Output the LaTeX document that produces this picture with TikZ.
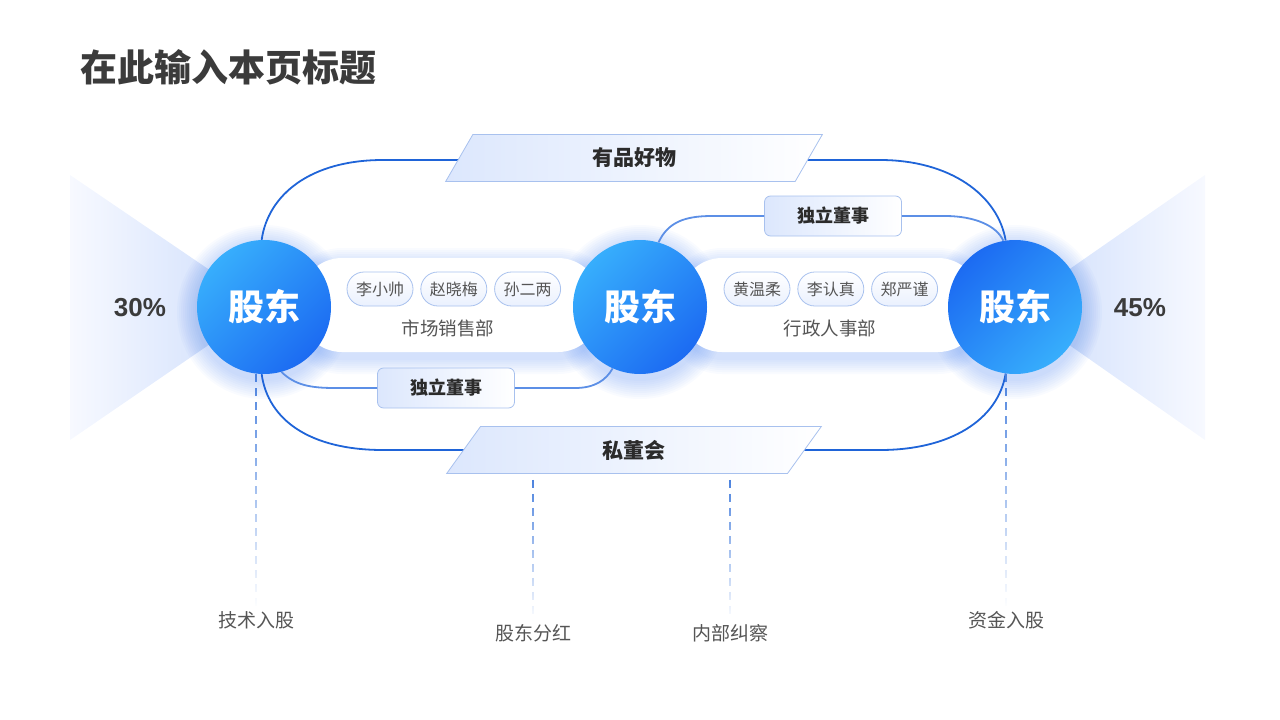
\documentclass[tikz,border=0pt]{standalone}
\usepackage{fontspec}
\setmainfont{Noto Sans CJK SC}
\newfontfamily\pctfont{Liberation Sans}
\usetikzlibrary{positioning, shapes.geometric, fadings}

\definecolor{loopblue}{HTML}{1F64D8}
\definecolor{linkblue}{HTML}{5C8FE6}
\definecolor{dashblue}{HTML}{4B82DE}
\definecolor{ballhi}{HTML}{37AEFC}
\definecolor{balllo}{HTML}{1C6BF2}
\definecolor{glowblue}{HTML}{3F7BF0}
\definecolor{fanblue}{HTML}{CCDCFC}
\definecolor{fanpale}{HTML}{F7F9FF}
\definecolor{paleblue}{HTML}{DCE7FD}
\definecolor{edgeblue}{HTML}{A8C1EE}
\definecolor{titlegray}{HTML}{3B3B3B}
\definecolor{textgray}{HTML}{555555}
\definecolor{darktext}{HTML}{2B2B2B}

\begin{document}
\begin{tikzpicture}[
    x=1pt, y=-1pt,
    node distance=7pt,
    ball/.style={
        circle,
        minimum size=134pt,
        inner sep=0pt,
        text=white,
        font=\fontsize{36}{36}\selectfont\bfseries
    },
    pill/.style={
        rectangle,
        rounded corners=17pt,
        draw=edgeblue,
        line width=0.8pt,
        minimum width=66pt,
        minimum height=34pt,
        inner sep=0pt,
        top color=white,
        bottom color=paleblue!60,
        text=textgray,
        font=\fontsize{16}{16}\selectfont
    },
    panel/.style={
        rectangle,
        rounded corners=42pt,
        fill=white,
        minimum width=300pt,
        minimum height=94pt
    },
    dept/.style={text=textgray, font=\fontsize{18.5}{18.5}\selectfont},
    board/.style={
        rectangle,
        rounded corners=6pt,
        draw=edgeblue,
        line width=0.8pt,
        minimum width=137pt,
        minimum height=40pt,
        left color=paleblue,
        right color=white,
        text=darktext,
        font=\fontsize{18}{18}\selectfont\bfseries
    },
    para/.style={
        trapezium,
        trapezium left angle=74,
        trapezium right angle=106,
        trapezium stretches=true,
        draw=edgeblue,
        line width=0.8pt,
        minimum width=377pt,
        minimum height=47pt,
        left color=paleblue,
        right color=white,
        text=darktext,
        font=\fontsize{21}{21}\selectfont\bfseries
    },
    loopline/.style={draw=loopblue, line width=1.8pt},
    link/.style={draw=linkblue, line width=1.8pt},
    dashline/.style={dashblue, line width=1.8pt, dash pattern=on 8pt off 6pt, path fading=south},
    foot/.style={text=textgray, font=\fontsize{19}{19}\selectfont},
    pct/.style={text=titlegray, font=\pctfont\fontsize{26}{26}\selectfont\bfseries},
    glow/.style={fill=glowblue, opacity=0.03}
]
\useasboundingbox (0,0) rectangle (1280,720);

\node[anchor=west, text=titlegray, font=\fontsize{37}{37}\selectfont\bfseries] (title) at (77,67) {在此输入本页标题};

% fans behind the side holders
\shade[left color=fanpale, right color=fanblue] (70,175) -- (264,307) -- (70,440) -- cycle;
\shade[left color=fanblue, right color=fanpale] (1205,175) -- (1015,307) -- (1205,440) -- cycle;

% soft glow
\foreach \cx in {264,640,1015}
    \foreach \k in {1,...,10}
        \fill[glow] (\cx,312) circle [radius=67pt+2pt*\k];
\foreach \px in {450,830}
    \foreach \k in {1,...,8}
        \fill[glow, rounded corners=42pt+2pt*\k] ({\px-150-2*\k},{264-2*\k}) rectangle ({\px+150+2*\k},{358+2*\k});

\node[panel] (sales) at (450,305) {};
\node[panel] (admin) at (830,305) {};

% shareholders
\node[ball, top color=ballhi, bottom color=balllo, shading angle=45] (c1) at (264,307) {股东};
\node[ball, top color=ballhi, bottom color=balllo, shading angle=45] (c2) at (640,307) {股东};
\node[ball, top color=balllo, bottom color=ballhi, shading angle=45] (c3) at (1015,307) {股东};

\node[pct] (p1) at (140,308) {30\%};
\node[pct] (p2) at (1140,308) {45\%};

% outer loop
\draw[loopline] (c1.92) .. controls (268,195) and (310,160) .. (383,160) -- (880,160)
    .. controls (950,160) and (998,195) .. (c3.98);
\draw[loopline] (c1.268) .. controls (268,420) and (310,450) .. (383,450) -- (880,450)
    .. controls (950,450) and (998,420) .. (c3.262);

% directors
\node[board] (dtop) at (833,216) {独立董事};
\node[board] (dbot) at (446,388) {独立董事};

\draw[link] (c2.74) .. controls (668,222) and (685,216) .. (712,216) -- (dtop.west);
\draw[link] (dtop.east) -- (945,216) .. controls (975,216) and (997,226) .. (c3.100);
\draw[link] (c1.285) .. controls (295,385) and (310,388) .. (335,388) -- (dbot.west);
\draw[link] (dbot.east) -- (575,388) .. controls (595,388) and (606,380) .. (c2.246);

\node[para] (goods) at (634,158) {有品好物};
\node[para] (club) at (634,450) {私董会};

% departments
\node[pill] (m1) at (380,289) {李小帅};
\node[pill, right=of m1] (m2) {赵晓梅};
\node[pill, right=of m2] (m3) {孙二两};
\node[dept] (salesname) at (448,328) {市场销售部};

\node[pill] (a1) at (757,289) {黄温柔};
\node[pill, right=of a1] (a2) {李认真};
\node[pill, right=of a2] (a3) {郑严谨};
\node[dept] (adminname) at (830,328) {行政人事部};

% footnotes
\node[foot] (f1) at (256,620) {技术入股};
\node[foot] (f2) at (533,633) {股东分红};
\node[foot] (f3) at (730,633) {内部纠察};
\node[foot] (f4) at (1006,620) {资金入股};

\draw[dashline] (f1 |- c1.south) -- (f1.north) ([xshift=-4pt]f1.north) ([xshift=4pt]f1.north);
\draw[dashline] ([yshift=-6pt]f2 |- club.south) -- (f2.north) ([xshift=-4pt]f2.north) ([xshift=4pt]f2.north);
\draw[dashline] ([yshift=-6pt]f3 |- club.south) -- (f3.north) ([xshift=-4pt]f3.north) ([xshift=4pt]f3.north);
\draw[dashline] (f4 |- c3.south) -- (f4.north) ([xshift=-4pt]f4.north) ([xshift=4pt]f4.north);

\end{tikzpicture}
\end{document}
